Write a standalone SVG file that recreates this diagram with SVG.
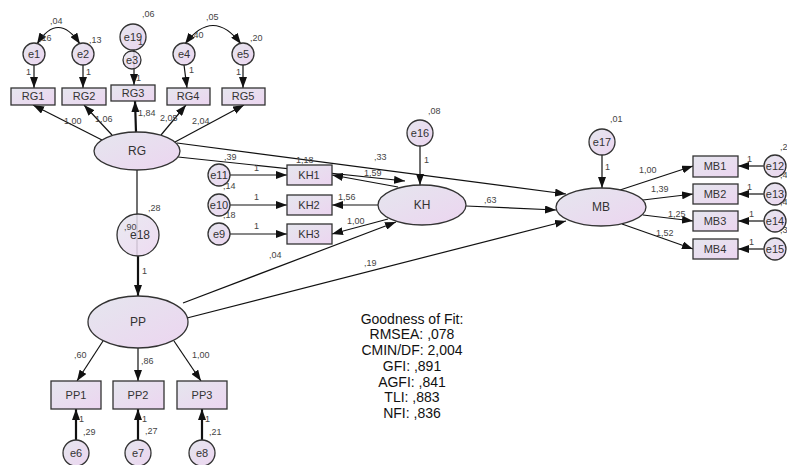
<svg xmlns="http://www.w3.org/2000/svg" width="787" height="465" viewBox="0 0 787 465">
<defs>
<linearGradient id="g" x1="0" y1="0" x2="1" y2="1">
<stop offset="0" stop-color="#e5e6ee"/>
<stop offset="1" stop-color="#ecd5f0"/>
</linearGradient>
<marker id="ah" markerWidth="11" markerHeight="8" refX="11" refY="4" orient="auto-start-reverse" markerUnits="userSpaceOnUse">
<path d="M0,0 L11,4 L0,8 z" fill="#111"/>
</marker>
</defs>
<style>
.n{fill:url(#g);stroke:#333;stroke-width:1.3}
.t{font-family:"Liberation Sans",Arial,sans-serif;font-size:11px;fill:#333;text-anchor:middle}
.lt{font-family:"Liberation Sans",Arial,sans-serif;font-size:12px;fill:#333;text-anchor:middle}
.c{font-family:"Liberation Sans",Arial,sans-serif;font-size:9px;fill:#444}
.e{stroke:#111;stroke-width:1.2;fill:none}
.a{stroke:#111;stroke-width:1.2;fill:none;marker-end:url(#ah)}
.tk{stroke:#111;stroke-width:2.2;fill:none;marker-end:url(#ah)}
.fit{font-family:"Liberation Sans",Arial,sans-serif;font-size:14px;fill:#111;text-anchor:middle}
</style>
<rect width="787" height="465" fill="#fff"/>
<g id="connectors">
<path class="e" d="M37,44 Q58,11 80,44" marker-start="url(#ah)" marker-end="url(#ah)"/>
<path class="e" d="M185,44 Q213,7 241,44" marker-start="url(#ah)" marker-end="url(#ah)"/>
<line class="a" x1="34" y1="65" x2="34" y2="88"/>
<line class="a" x1="83" y1="65" x2="83" y2="88"/>
<line class="a" x1="134" y1="40" x2="134" y2="85"/>
<line class="a" x1="184" y1="65" x2="187" y2="88"/>
<line class="a" x1="243" y1="65" x2="243" y2="88"/>
<line class="a" x1="102" y1="140" x2="33" y2="105"/>
<line class="a" x1="112" y1="135" x2="84" y2="105"/>
<line class="tk" x1="136" y1="132" x2="135" y2="101"/>
<line class="a" x1="161" y1="135" x2="186" y2="105"/>
<line class="a" x1="175" y1="142" x2="244" y2="105"/>
<line class="a" x1="178" y1="157" x2="405" y2="181"/>
<line class="a" x1="177" y1="143" x2="566" y2="194"/>
<line class="a" x1="466" y1="206" x2="556" y2="210"/>
<line class="a" x1="183" y1="303" x2="396" y2="222"/>
<line class="a" x1="187" y1="318" x2="566" y2="221"/>
<line class="a" x1="398" y1="187" x2="332" y2="175"/>
<line class="a" x1="378" y1="205" x2="332" y2="205"/>
<line class="a" x1="388" y1="219" x2="332" y2="234"/>
<line class="a" x1="230" y1="175" x2="287" y2="175"/>
<line class="a" x1="230" y1="205" x2="287" y2="205"/>
<line class="a" x1="230" y1="234" x2="287" y2="234"/>
<line class="a" x1="420" y1="146" x2="420" y2="185"/>
<line class="a" x1="602" y1="155" x2="602" y2="188"/>
<line class="a" x1="620" y1="190" x2="693" y2="166"/>
<line class="a" x1="643" y1="200" x2="693" y2="194"/>
<line class="a" x1="643" y1="215" x2="693" y2="221"/>
<line class="a" x1="622" y1="224" x2="693" y2="249"/>
<line class="a" x1="764" y1="166" x2="738" y2="166"/>
<line class="a" x1="764" y1="194" x2="738" y2="194"/>
<line class="a" x1="764" y1="221" x2="738" y2="221"/>
<line class="a" x1="764" y1="249" x2="738" y2="249"/>
<line class="e" x1="137" y1="170" x2="137" y2="256"/>
<line class="tk" x1="138" y1="256" x2="138" y2="296"/>
<line class="a" x1="103" y1="341" x2="77" y2="381"/>
<line class="a" x1="138" y1="348" x2="138" y2="381"/>
<line class="a" x1="174" y1="341" x2="201" y2="381"/>
<line class="tk" x1="76" y1="440" x2="76" y2="409"/>
<line class="tk" x1="138" y1="440" x2="138" y2="409"/>
<line class="tk" x1="202" y1="440" x2="202" y2="409"/>
</g>
<g id="e1"><circle class="n" cx="34" cy="54" r="11"/><text class="t" x="34" y="58">e1</text></g>
<g id="e2"><circle class="n" cx="83" cy="54" r="11"/><text class="t" x="83" y="58">e2</text></g>
<g id="e19"><circle class="n" cx="133" cy="37" r="13"/><text class="t" x="133" y="41">e19</text></g>
<g id="e3"><circle class="n" cx="132" cy="60" r="9" fill-opacity="0.85"/><text class="t" x="132" y="64">e3</text></g>
<g id="e4"><circle class="n" cx="184" cy="54" r="11"/><text class="t" x="184" y="58">e4</text></g>
<g id="e5"><circle class="n" cx="243" cy="54" r="11"/><text class="t" x="243" y="58">e5</text></g>
<g id="RG1"><rect class="n" x="11" y="88" width="44" height="17"/><text class="t" x="33" y="100">RG1</text></g>
<g id="RG2"><rect class="n" x="62" y="88" width="44" height="17"/><text class="t" x="84" y="100">RG2</text></g>
<g id="RG3"><rect class="n" x="111" y="85" width="44" height="16"/><text class="t" x="133" y="97">RG3</text></g>
<g id="RG4"><rect class="n" x="167" y="88" width="43" height="17"/><text class="t" x="188" y="100">RG4</text></g>
<g id="RG5"><rect class="n" x="222" y="88" width="43" height="17"/><text class="t" x="243" y="100">RG5</text></g>
<g id="RG"><ellipse class="n" cx="137" cy="151" rx="43" ry="19"/><text class="lt" x="137" y="155">RG</text></g>
<g id="e11"><circle class="n" cx="219" cy="175" r="11"/><text class="t" x="219" y="179">e11</text></g>
<g id="e10"><circle class="n" cx="219" cy="205" r="11"/><text class="t" x="219" y="209">e10</text></g>
<g id="e9"><circle class="n" cx="219" cy="234" r="11"/><text class="t" x="219" y="238">e9</text></g>
<g id="KH1"><rect class="n" x="287" y="165" width="45" height="20"/><text class="t" x="309" y="179">KH1</text></g>
<g id="KH2"><rect class="n" x="287" y="195" width="45" height="20"/><text class="t" x="309" y="209">KH2</text></g>
<g id="KH3"><rect class="n" x="287" y="224" width="45" height="20"/><text class="t" x="309" y="238">KH3</text></g>
<g id="e16"><circle class="n" cx="420" cy="133" r="13"/><text class="t" x="420" y="137">e16</text></g>
<g id="KH"><ellipse class="n" cx="422" cy="205" rx="44" ry="20"/><text class="lt" x="422" y="209">KH</text></g>
<g id="e17"><circle class="n" cx="602" cy="142" r="13"/><text class="t" x="602" y="146">e17</text></g>
<g id="MB"><ellipse class="n" cx="601" cy="207" rx="45" ry="19"/><text class="lt" x="601" y="211">MB</text></g>
<g id="MB1"><rect class="n" x="693" y="156" width="45" height="21"/><text class="t" x="715" y="170">MB1</text></g>
<g id="MB2"><rect class="n" x="693" y="184" width="45" height="20"/><text class="t" x="715" y="198">MB2</text></g>
<g id="MB3"><rect class="n" x="693" y="211" width="45" height="20"/><text class="t" x="715" y="225">MB3</text></g>
<g id="MB4"><rect class="n" x="693" y="239" width="45" height="20"/><text class="t" x="715" y="253">MB4</text></g>
<g id="e12"><circle class="n" cx="775" cy="166" r="11"/><text class="t" x="775" y="170">e12</text></g>
<g id="e13"><circle class="n" cx="775" cy="194" r="11"/><text class="t" x="775" y="198">e13</text></g>
<g id="e14"><circle class="n" cx="775" cy="221" r="11"/><text class="t" x="775" y="225">e14</text></g>
<g id="e15"><circle class="n" cx="775" cy="249" r="11"/><text class="t" x="775" y="253">e15</text></g>
<g id="e18"><circle class="n" cx="138" cy="235" r="21" fill-opacity="0.85"/><text class="lt" x="140" y="239">e18</text></g>
<g id="PP"><ellipse class="n" cx="138" cy="322" rx="50" ry="26"/><text class="lt" x="138" y="326">PP</text></g>
<g id="PP1"><rect class="n" x="51" y="381" width="50" height="28"/><text class="t" x="76" y="399">PP1</text></g>
<g id="PP2"><rect class="n" x="113" y="381" width="51" height="28"/><text class="t" x="138" y="399">PP2</text></g>
<g id="PP3"><rect class="n" x="177" y="381" width="50" height="28"/><text class="t" x="202" y="399">PP3</text></g>
<g id="e6"><circle class="n" cx="76" cy="453" r="13"/><text class="t" x="76" y="457">e6</text></g>
<g id="e7"><circle class="n" cx="138" cy="453" r="13"/><text class="t" x="138" y="457">e7</text></g>
<g id="e8"><circle class="n" cx="202" cy="453" r="13"/><text class="t" x="202" y="457">e8</text></g>
<g id="labels">
<text class="c" x="50" y="24">,04</text>
<text class="c" x="206" y="20">,05</text>
<text class="c" x="39" y="41">,16</text>
<text class="c" x="89" y="43">,13</text>
<text class="c" x="142" y="17">,06</text>
<text class="c" x="191" y="38">,40</text>
<text class="c" x="250" y="41">,20</text>
<text class="c" x="138" y="45">1</text>
<text class="c" x="26" y="75">1</text>
<text class="c" x="86" y="75">1</text>
<text class="c" x="136" y="81">1</text>
<text class="c" x="189" y="73">1</text>
<text class="c" x="236" y="75">1</text>
<text class="c" x="64" y="124">1,00</text>
<text class="c" x="95" y="122">1,06</text>
<text class="c" x="138" y="116">1,84</text>
<text class="c" x="160" y="121">2,05</text>
<text class="c" x="192" y="124">2,04</text>
<text class="c" x="224" y="160">,39</text>
<text class="c" x="374" y="160">,33</text>
<text class="c" x="296" y="163">1,18</text>
<text class="c" x="364" y="176">1,59</text>
<text class="c" x="338" y="200">1,56</text>
<text class="c" x="347" y="224">1,00</text>
<text class="c" x="254" y="171">1</text>
<text class="c" x="254" y="200">1</text>
<text class="c" x="254" y="229">1</text>
<text class="c" x="223" y="189">,14</text>
<text class="c" x="223" y="218">,18</text>
<text class="c" x="428" y="114">,08</text>
<text class="c" x="424" y="163">1</text>
<text class="c" x="484" y="203">,63</text>
<text class="c" x="269" y="258">,04</text>
<text class="c" x="364" y="266">,19</text>
<text class="c" x="610" y="122">,01</text>
<text class="c" x="605" y="170">1</text>
<text class="c" x="639" y="173">1,00</text>
<text class="c" x="651" y="192">1,39</text>
<text class="c" x="668" y="217">1,25</text>
<text class="c" x="656" y="236">1,52</text>
<text class="c" x="747" y="162">1</text>
<text class="c" x="747" y="190">1</text>
<text class="c" x="749" y="217">1</text>
<text class="c" x="749" y="245">1</text>
<text class="c" x="780" y="150">,2</text>
<text class="c" x="780" y="178">,4</text>
<text class="c" x="780" y="205">,4</text>
<text class="c" x="780" y="233">,3</text>
<text class="c" x="148" y="211">,28</text>
<text class="c" x="124" y="230">,90</text>
<text class="c" x="142" y="274">1</text>
<text class="c" x="74" y="358">,60</text>
<text class="c" x="141" y="364">,86</text>
<text class="c" x="192" y="358">1,00</text>
<text class="c" x="79" y="422">1</text>
<text class="c" x="142" y="422">1</text>
<text class="c" x="205" y="422">1</text>
<text class="c" x="83" y="435">,29</text>
<text class="c" x="145" y="434">,27</text>
<text class="c" x="209" y="435">,21</text>
</g>
<g id="fit">
<text class="fit" x="412" y="324">Goodness of Fit:</text>
<text class="fit" x="412" y="339">RMSEA: ,078</text>
<text class="fit" x="412" y="355">CMIN/DF: 2,004</text>
<text class="fit" x="412" y="371">GFI: ,891</text>
<text class="fit" x="412" y="387">AGFI: ,841</text>
<text class="fit" x="412" y="402">TLI: ,883</text>
<text class="fit" x="412" y="418">NFI: ,836</text>
</g>
</svg>
